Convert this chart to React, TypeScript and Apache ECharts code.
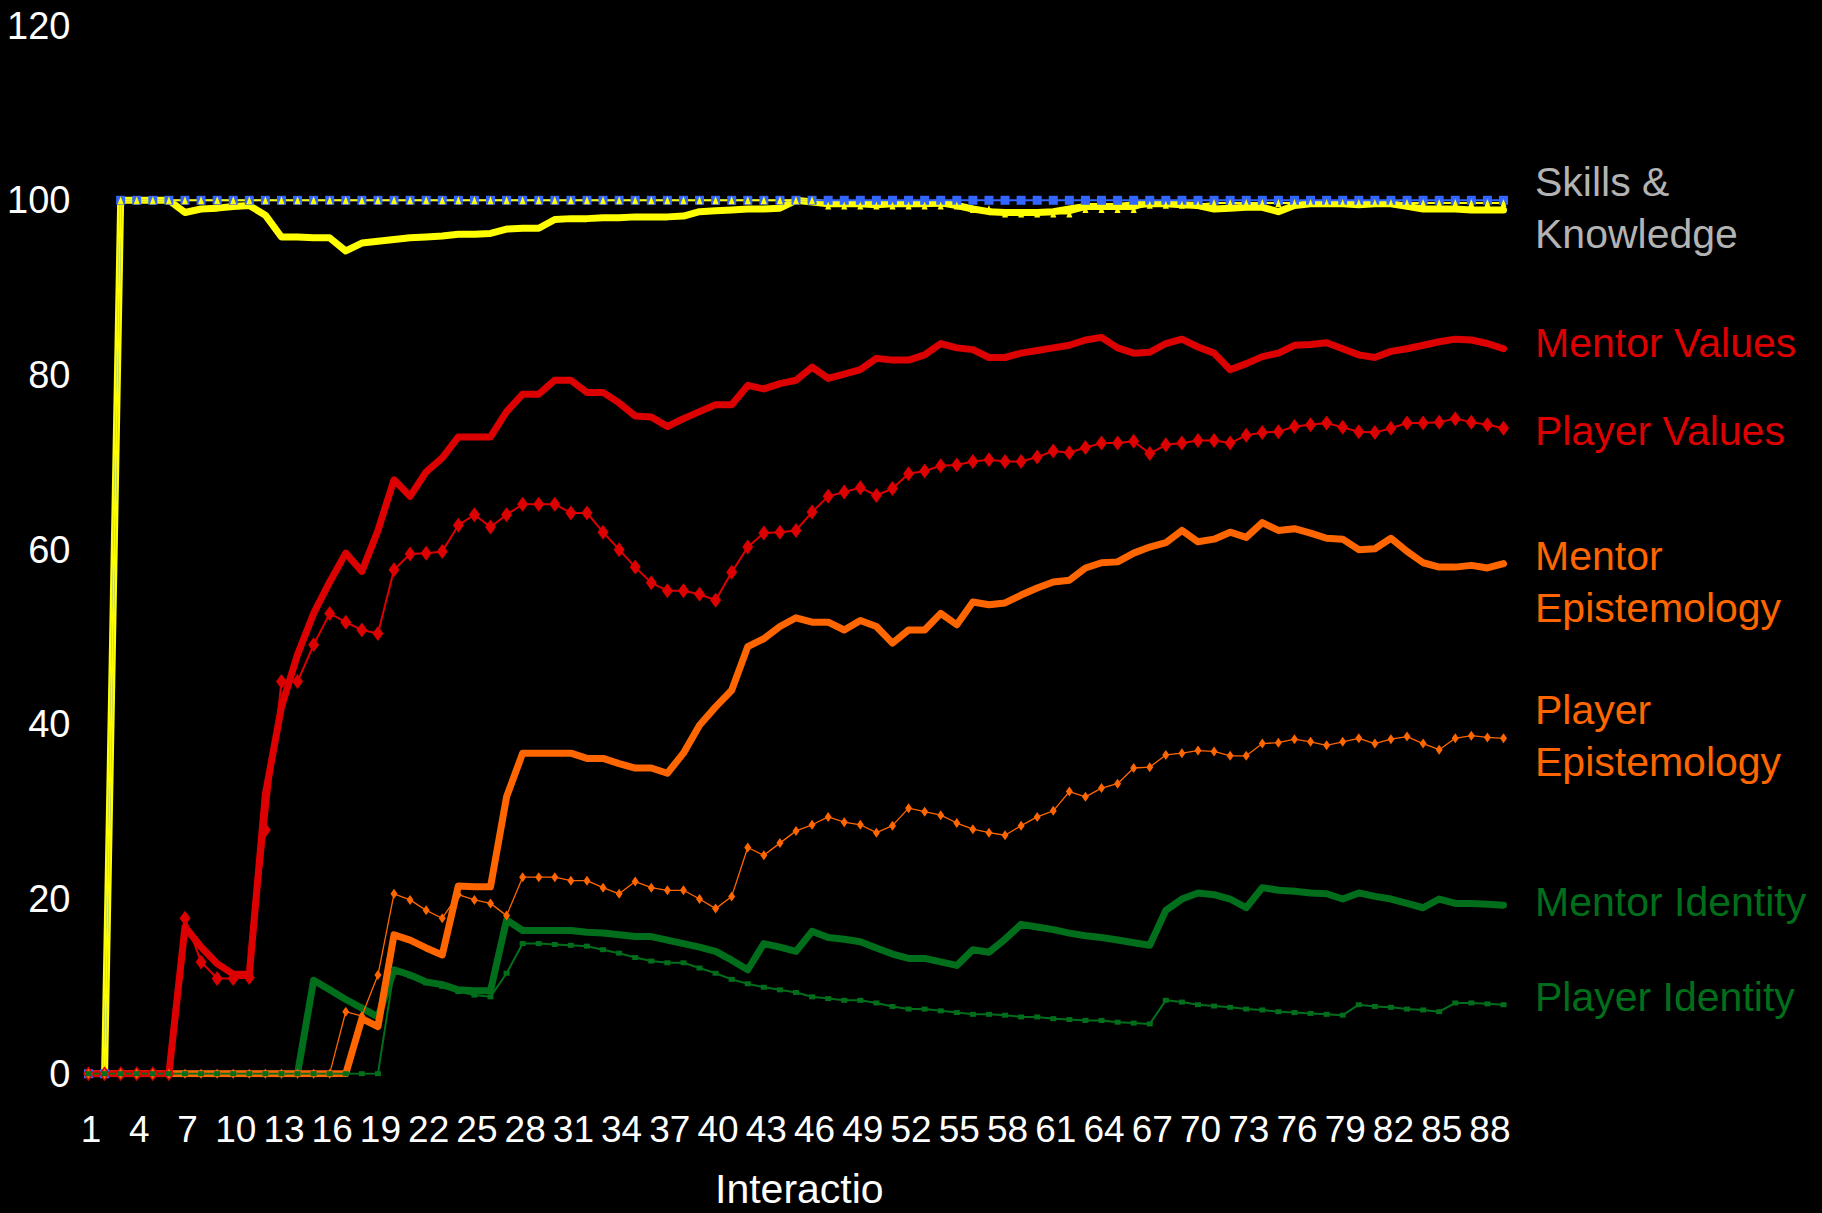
import React, { useEffect, useRef } from "react";
import * as echarts from "echarts";

const categories: string[] = Array.from({ length: 89 }, (_, i) => String(i + 1));

const yTicks = { min: 0, max: 120, interval: 20 };

const mentorValues = [
  0, 0, 0, 0, 0, 0,
  16.8, 14.5, 12.6, 11.4, 11.4,
  32, 42, 48, 52.7, 56.3, 59.6, 57.5, 62.2, 68.0,
  66.1, 68.9, 70.5, 72.9, 72.9, 72.9, 75.8, 77.8, 77.8, 79.4,
  79.4, 78.0, 78.0, 76.8, 75.3, 75.2, 74.1, 75.0, 75.8, 76.6,
  76.6, 78.8, 78.4, 79.0, 79.4, 80.9, 79.6, 80.1, 80.6, 81.9,
  81.7, 81.7, 82.3, 83.6, 83.1, 82.9, 82.0, 82.0, 82.5, 82.8,
  83.1, 83.4, 84.0, 84.3, 83.1, 82.5, 82.6, 83.6, 84.1, 83.2,
  82.5, 80.6, 81.3, 82.1, 82.5, 83.4, 83.5, 83.7, 83.0, 82.3,
  82.0, 82.7, 83.0, 83.4, 83.8, 84.1, 84.0, 83.6, 83.0,
];

const playerValues = [
  0, 0, 0, 0, 0, 0,
  17.8, 12.8, 10.9, 10.9, 11.0,
  27.9, 44.9, 44.9, 49.1, 52.7, 51.7, 50.8, 50.4, 57.7,
  59.5, 59.6, 59.8, 62.8, 64.0, 62.6, 64.0, 65.2, 65.2, 65.2,
  64.2, 64.2, 62.0, 60.0, 58.0, 56.2, 55.3, 55.3, 54.9, 54.2,
  57.4, 60.3, 61.9, 62.0, 62.2, 64.3, 66.1, 66.6, 67.1, 66.2,
  67.0, 68.7, 69.0, 69.6, 69.7, 70.1, 70.3, 70.1, 70.1, 70.6,
  71.3, 71.1, 71.7, 72.2, 72.2, 72.4, 71.0, 72.0, 72.2, 72.5,
  72.5, 72.2, 73.1, 73.4, 73.5, 74.1, 74.3, 74.5, 74.0, 73.5,
  73.4, 73.9, 74.5, 74.5, 74.6, 75.0, 74.6, 74.3, 73.9,
];

const mentorEpistemology = [
  0, 0, 0, 0, 0, 0, 0, 0, 0, 0,
  0, 0, 0, 0, 0, 0, 0, 6.3, 5.4, 15.9,
  15.3, 14.4, 13.6, 21.5, 21.4, 21.4, 31.7, 36.7, 36.7, 36.7,
  36.7, 36.1, 36.1, 35.5, 35.0, 35.0, 34.4, 36.7, 39.9, 42.0,
  43.9, 48.9, 49.8, 51.2, 52.2, 51.7, 51.7, 50.8, 51.9, 51.2,
  49.3, 50.8, 50.8, 52.7, 51.4, 54.0, 53.7, 53.9, 54.8, 55.6,
  56.3, 56.5, 57.9, 58.5, 58.6, 59.6, 60.3, 60.8, 62.2, 60.9,
  61.2, 62.0, 61.4, 63.1, 62.2, 62.4, 61.9, 61.3, 61.2, 60.0,
  60.1, 61.3, 59.8, 58.5, 58.0, 58.0, 58.2, 57.9, 58.4,
];

const playerEpistemology = [
  0, 0, 0, 0, 0, 0, 0, 0, 0, 0,
  0, 0, 0, 0, 0, 0, 7.1, 6.6, 11.3, 20.6,
  19.9, 18.7, 17.8, 20.5, 19.9, 19.5, 18.1, 22.5, 22.5, 22.5,
  22.1, 22.1, 21.3, 20.6, 22.0, 21.3, 21.0, 21.0, 20.0, 18.9,
  20.3, 25.9, 25.0, 26.4, 27.8, 28.5, 29.4, 28.8, 28.5, 27.6,
  28.4, 30.4, 30.0, 29.6, 28.7, 28.0, 27.6, 27.3, 28.4, 29.4,
  30.1, 32.3, 31.7, 32.7, 33.2, 35.0, 35.1, 36.5, 36.7, 37.0,
  36.9, 36.4, 36.4, 37.8, 37.9, 38.3, 38.0, 37.6, 38.0, 38.4,
  37.8, 38.3, 38.6, 37.8, 37.1, 38.4, 38.7, 38.5, 38.4,
];

const mentorIdentity = [
  0, 0, 0, 0, 0, 0, 0, 0, 0, 0,
  0, 0, 0, 0, 10.7, 9.6, 8.5, 7.5, 6.5, 11.9,
  11.3, 10.5, 10.2, 9.6, 9.5, 9.5, 17.6, 16.4, 16.4, 16.4,
  16.4, 16.2, 16.1, 15.9, 15.7, 15.7, 15.3, 14.9, 14.5, 14.0,
  13.0, 11.9, 14.9, 14.5, 14.0, 16.3, 15.6, 15.4, 15.1, 14.4,
  13.7, 13.2, 13.2, 12.8, 12.4, 14.2, 13.9, 15.4, 17.1, 16.8,
  16.5, 16.1, 15.8, 15.6, 15.3, 15.0, 14.7, 18.7, 20.0, 20.7,
  20.5, 20.0, 19.0, 21.3, 21.0, 20.9, 20.7, 20.6, 20.0, 20.7,
  20.3, 20.0, 19.5, 19.0, 20.0, 19.5, 19.5, 19.4, 19.3,
];

const playerIdentity = [
  0, 0, 0, 0, 0, 0, 0, 0, 0, 0,
  0, 0, 0, 0, 0, 0, 0, 0, 0, 11.8,
  11.2, 10.4, 10.0, 9.4, 9.0, 8.8, 11.5, 14.9, 14.9, 14.8,
  14.7, 14.6, 14.2, 13.8, 13.3, 12.9, 12.7, 12.7, 12.1, 11.5,
  10.8, 10.3, 9.9, 9.6, 9.3, 8.8, 8.6, 8.4, 8.4, 8.1,
  7.7, 7.4, 7.4, 7.2, 7.0, 6.8, 6.8, 6.7, 6.5, 6.5,
  6.3, 6.2, 6.1, 6.1, 5.9, 5.8, 5.7, 8.4, 8.2, 7.9,
  7.75, 7.6, 7.4, 7.3, 7.1, 7.0, 6.9, 6.8, 6.7, 7.9,
  7.7, 7.6, 7.4, 7.3, 7.1, 8.1, 8.1, 8.0, 7.9,
];

const mentorSkills = [
  0, 0, 100, 100, 100, 100, 98.6, 99.0, 99.1, 99.3,
  99.4, 98.3, 95.8, 95.8, 95.7, 95.7, 94.2, 95.1, 95.3, 95.5,
  95.7, 95.8, 95.9, 96.1, 96.1, 96.2, 96.7, 96.8, 96.8, 97.8,
  97.9, 97.9, 98.0, 98.0, 98.1, 98.1, 98.1, 98.2, 98.7, 98.8,
  98.9, 99.0, 99.0, 99.1, 100, 99.8, 99.6, 99.6, 99.6, 99.5,
  99.6, 99.6, 99.6, 99.7, 99.4, 99.0, 98.7, 98.6, 98.6, 98.6,
  98.7, 99.0, 99.3, 99.3, 99.3, 99.5, 99.6, 99.6, 99.5, 99.4,
  99.0, 99.1, 99.2, 99.2, 98.7, 99.4, 99.6, 99.6, 99.6, 99.5,
  99.6, 99.6, 99.3, 99.0, 99.0, 99.0, 98.9, 98.9, 98.9,
];

const playerSkills = [
  0, 0, 100, 100, 100, 100, 100, 100, 100, 100,
  100, 100, 100, 100, 100, 100, 100, 100, 100, 100,
  100, 100, 100, 100, 100, 100, 100, 100, 100, 100,
  100, 100, 100, 100, 100, 100, 100, 100, 100, 100,
  100, 100, 100, 100, 100, 100, 99.4, 99.4, 99.4, 99.4,
  99.4, 99.4, 99.4, 99.4, 99.4, 99.0, 99.0, 98.5, 98.5, 98.5,
  98.5, 98.5, 99.0, 99.0, 99.0, 99.0, 99.5, 99.5, 99.5, 99.5,
  99.7, 99.7, 99.7, 99.7, 99.7, 99.7, 99.7, 99.7, 99.7, 99.7,
  99.7, 99.7, 99.7, 99.7, 99.7, 99.7, 99.7, 99.7, 99.7,
];

const skillsReference = [
  0, 0, 100, 100, 100, 100, 100, 100, 100, 100,
  100, 100, 100, 100, 100, 100, 100, 100, 100, 100,
  100, 100, 100, 100, 100, 100, 100, 100, 100, 100,
  100, 100, 100, 100, 100, 100, 100, 100, 100, 100,
  100, 100, 100, 100, 100, 100, 100, 100, 100, 100,
  100, 100, 100, 100, 100, 100, 100, 100, 100, 100,
  100, 100, 100, 100, 100, 100, 100, 100, 100, 100,
  100, 100, 100, 100, 100, 100, 100, 100, 100, 100,
  100, 100, 100, 100, 100, 100, 100, 100, 100,
];

const seriesLabels = [
  { text: "Skills &\nKnowledge", color: "#b3b3b3", y: 208 },
  { text: "Mentor Values", color: "#dd0000", y: 343 },
  { text: "Player Values", color: "#dd0000", y: 431 },
  { text: "Mentor\nEpistemology", color: "#ff6600", y: 582 },
  { text: "Player\nEpistemology", color: "#ff6600", y: 736 },
  { text: "Mentor Identity", color: "#006e1a", y: 902 },
  { text: "Player Identity", color: "#006e1a", y: 997 },
];

const FONT = '"Liberation Sans", Arial, Helvetica, sans-serif';
const YELLOW = "#ffff00";
const BLUE = "#3366ff";
const RED = "#dd0000";
const ORANGE = "#ff6600";
const GREEN = "#006e1a";

export default function App() {
  const ref = useRef<HTMLDivElement>(null);

  useEffect(() => {
    if (!ref.current) return;
    const chart = echarts.init(ref.current, null, { renderer: "svg" });

    const thick = (name: string, data: number[], color: string) => ({
      name,
      type: "line",
      data,
      showSymbol: false,
      symbol: "none",
      lineStyle: { color, width: 7, cap: "round", join: "round" },
      itemStyle: { color },
    });

    const thin = (
      name: string,
      data: number[],
      color: string,
      width: number,
      symbol: string,
      symbolSize: number | number[]
    ) => ({
      name,
      type: "line",
      data,
      symbol,
      symbolSize,
      showAllSymbol: true,
      lineStyle: { color, width, join: "round" },
      itemStyle: { color, borderWidth: 0 },
    });

    chart.setOption({
      animation: false,
      backgroundColor: "#000000",
      grid: { left: 88.5, right: 318.5, top: 25.6, bottom: 139.3, containLabel: false },
      xAxis: {
        type: "category",
        data: categories,
        boundaryGap: false,
        axisLine: { show: false },
        axisTick: { show: false },
        splitLine: { show: false },
        axisLabel: {
          interval: (index: number) => index % 3 === 0,
          hideOverlap: false,
          color: "#ffffff",
          fontSize: 37,
          fontFamily: FONT,
          margin: 37,
          lineHeight: 37,
          padding: [0, 0, 0, 5],
        },
      },
      yAxis: {
        type: "value",
        min: yTicks.min,
        max: yTicks.max,
        interval: yTicks.interval,
        axisLine: { show: false },
        axisTick: { show: false },
        splitLine: { show: false },
        axisLabel: {
          color: "#ffffff",
          fontSize: 38,
          fontFamily: FONT,
          margin: 18,
        },
      },
      series: [
        thick("Mentor Skills & Knowledge", mentorSkills, YELLOW),
        thin("Skills & Knowledge", skillsReference, BLUE, 2, "rect", 9),
        thin("Player Skills & Knowledge", playerSkills, YELLOW, 2, "triangle", [6, 8]),
        thick("Mentor Identity", mentorIdentity, GREEN),
        thick("Mentor Epistemology", mentorEpistemology, ORANGE),
        thick("Mentor Values", mentorValues, RED),
        thin("Player Values", playerValues, RED, 2, "diamond", [11, 15]),
        thin("Player Epistemology", playerEpistemology, ORANGE, 1.3, "diamond", [7, 10]),
        thin("Player Identity", playerIdentity, GREEN, 2, "rect", [6, 5]),
      ],
      graphic: [
        ...seriesLabels.map((l) => ({
          type: "text",
          x: 1535,
          y: l.y,
          silent: true,
          style: {
            text: l.text,
            fill: l.color,
            fontSize: 41,
            fontFamily: FONT,
            lineHeight: 52,
            verticalAlign: "middle",
            align: "left",
          },
        })),
        {
          type: "text",
          x: 715,
          y: 1189,
          silent: true,
          style: {
            text: "Interactio",
            fill: "#ffffff",
            fontSize: 41,
            fontFamily: FONT,
            lineHeight: 42,
            verticalAlign: "middle",
            align: "left",
          },
        },
      ],
    });

    return () => chart.dispose();
  }, []);

  return (
    <div
      ref={ref}
      style={{ position: "absolute", left: 0, top: 0, width: 1822, height: 1213, background: "#000" }}
    />
  );
}
